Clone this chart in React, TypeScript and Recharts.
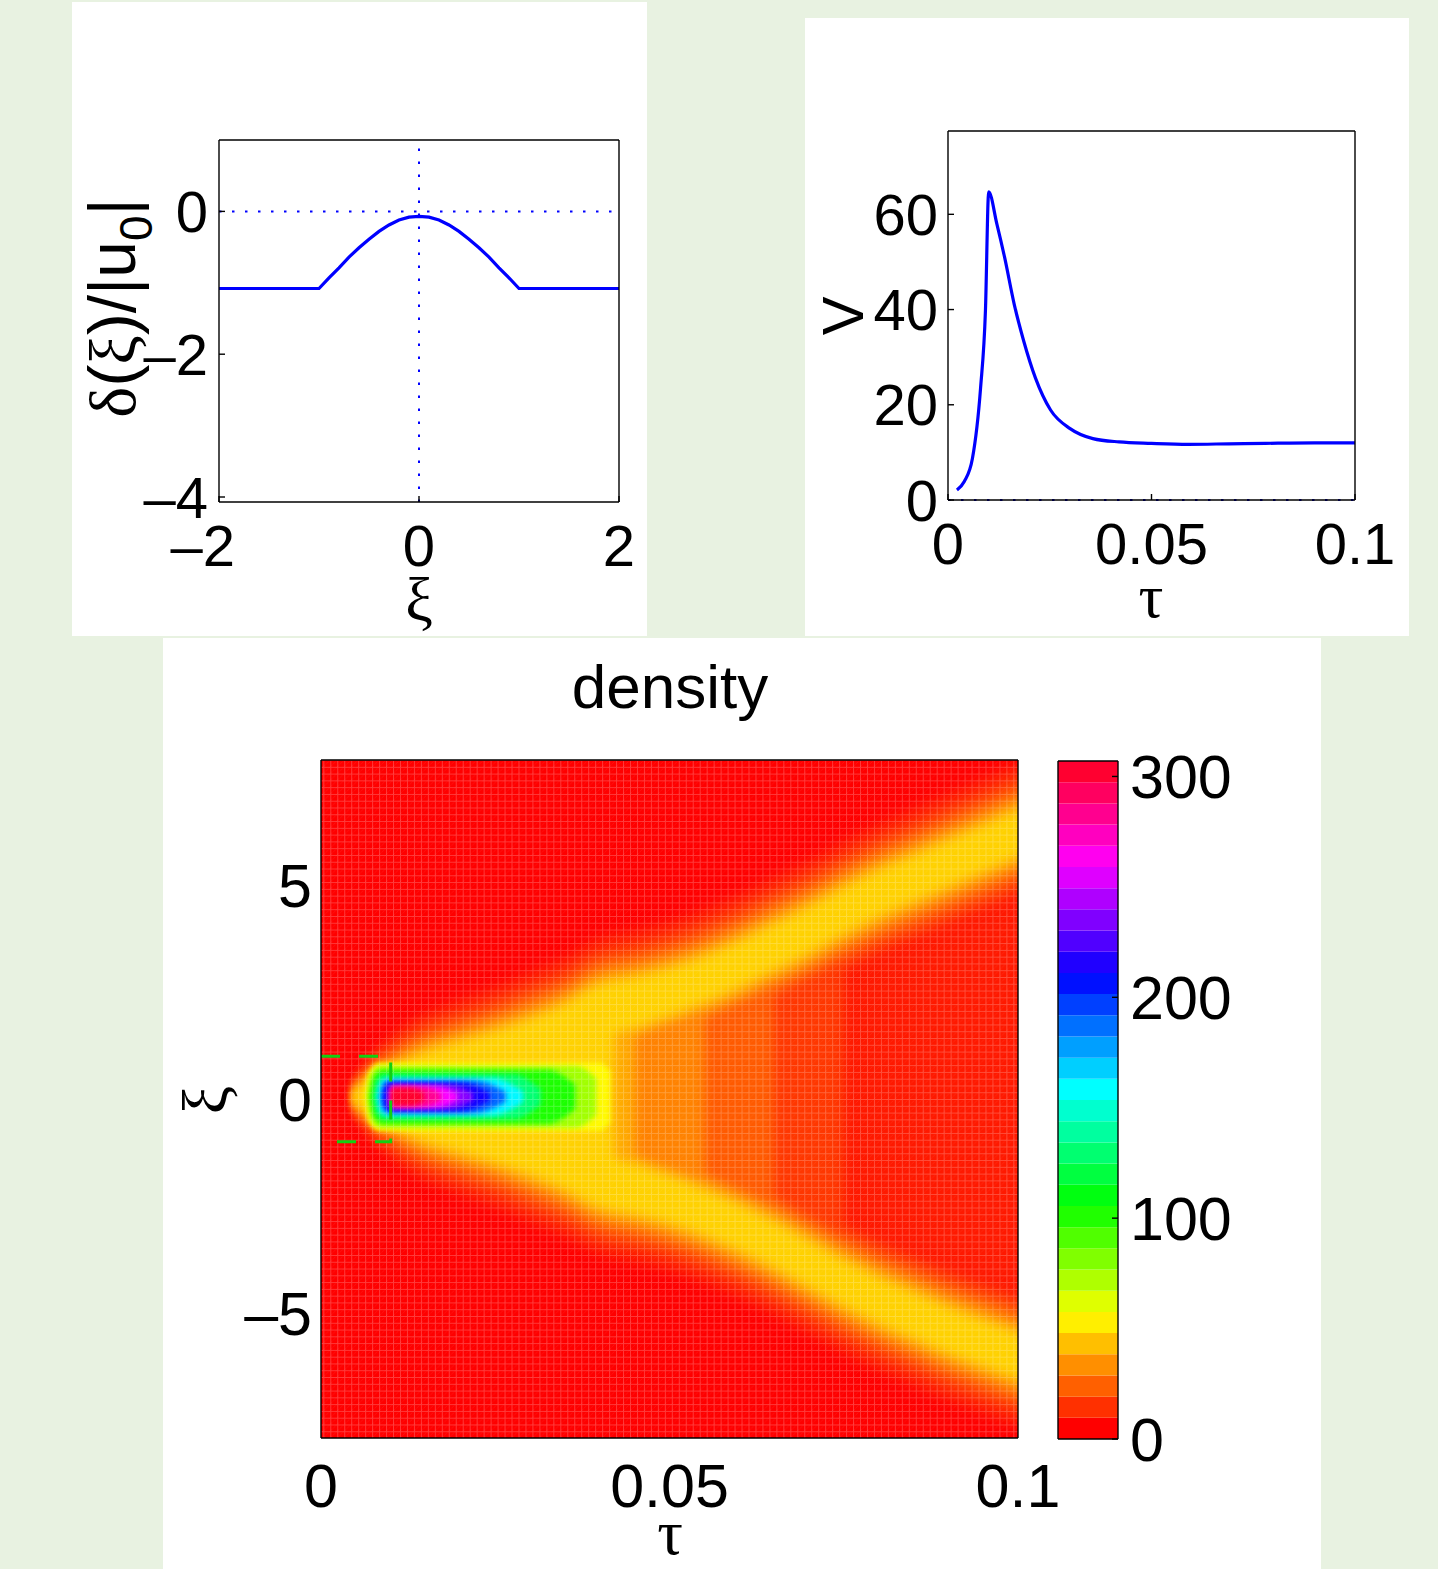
import React from 'react';
import {
  LineChart,
  Line,
  XAxis,
  YAxis,
  ReferenceLine,
  ComposedChart,
  Area,
  BarChart,
  Bar,
} from 'recharts';

const PAGE_BG = '#e8f2e1';
const SANS = '"Liberation Sans", Arial, Helvetica, sans-serif';
const SERIF = '"Liberation Serif", "DejaVu Serif", serif';
const BLUE = '#0000ff';
const AXIS = { stroke: '#000', strokeWidth: 1.4 };
const DOTTED = '2.5 10.5';

// ---- top left: delta(xi)/|u0| profile
const XI_PROFILE = [-2, -1.5, -1, -0.9, -0.8, -0.7, -0.6, -0.5, -0.4, -0.3, -0.2, -0.1, 0, 0.1, 0.2, 0.3, 0.4, 0.5, 0.6, 0.7, 0.8, 0.9, 1, 1.5, 2];
const DELTA_PROFILE = [-1.08, -1.08, -1.08, -0.93, -0.79, -0.64, -0.51, -0.39, -0.28, -0.19, -0.12, -0.08, -0.07, -0.08, -0.12, -0.19, -0.28, -0.39, -0.51, -0.64, -0.79, -0.93, -1.08, -1.08, -1.08];
const XI_TICKS = [-2, 0, 2];
const DELTA_TICKS = [-4, -2, 0];

// ---- top right: V(tau)
const TAU_V = [0.0022, 0.004, 0.006, 0.008, 0.0092, 0.0100, 0.012, 0.0139, 0.0163, 0.0186, 0.0215, 0.0252, 0.03, 0.0356, 0.042, 0.05, 0.059, 0.069, 0.078, 0.09, 0.1];
const V_VALUES = [2.1, 3.9, 8.7, 23.5, 39.8, 64.7, 58, 51, 41, 33.4, 25.6, 18.9, 15, 12.9, 12.2, 11.9, 11.7, 11.8, 11.9, 12.0, 12.0];
const TAU_TICKS = [0, 0.05, 0.1];
const V_TICKS = [0, 20, 40, 60];

// ---- bottom: density map (levels)
const CMAX = 307;
const CBAR_BANDS = 32;
const CBAR_TICKS = [0, 100, 200, 300];
const XI_HEAT_TICKS = [-5, 0, 5];

const TAU_GRID = [0.005, 0.0075, 0.01, 0.0125, 0.015, 0.02, 0.025, 0.03, 0.035, 0.0395, 0.042, 0.045, 0.048, 0.05, 0.055, 0.06, 0.065, 0.07, 0.075, 0.08, 0.085, 0.09, 0.095, 0.1, 0.106];
const UPPER_ARM_XI = [0.05, 0.3, 0.45, 0.6, 0.75, 0.95, 1.15, 1.4, 1.7, 2.05, 2.15, 2.25, 2.4, 2.5, 2.8, 3.15, 3.55, 3.95, 4.4, 4.8, 5.15, 5.5, 5.85, 6.2, 6.55];
const LOWER_ARM_XI = [0.05, -0.2, -0.35, -0.5, -0.65, -0.85, -1.05, -1.3, -1.6, -1.9, -2.0, -2.1, -2.25, -2.35, -2.65, -3.0, -3.4, -3.85, -4.3, -4.7, -5.05, -5.4, -5.7, -6.0, -6.3];
const ARM_CORE_HW = [0.12, 0.2, 0.25, 0.3, 0.33, 0.38, 0.42, 0.46, 0.5, 0.58, 0.6, 0.58, 0.55, 0.54, 0.52, 0.52, 0.52, 0.52, 0.52, 0.52, 0.52, 0.52, 0.52, 0.52, 0.52];
const ARM_SPREAD = [0.35, 0.55, 0.7, 0.8, 0.85, 0.9, 0.95, 1, 1, 1, 1, 1, 1, 1, 1, 1, 1, 1, 1, 1, 1, 1, 1, 1, 1];

// density level, extra half width of the arms, where the filled inside of the V stops
const HEAT_LEVELS = [
  { d: 5, pad: 1.15, interiorEnd: 0.106 },
  { d: 11, pad: 0.85, interiorEnd: 0.075 },
  { d: 18, pad: 0.6, interiorEnd: 0.065 },
  { d: 26, pad: 0.38, interiorEnd: 0.055 },
  { d: 34, pad: 0.18, interiorEnd: 0.045 },
  { d: 42, pad: 0, interiorEnd: 0.042 },
];

// the dense packet near tau = 0.01..0.04
const BLOB_XI = 0.05;
const BLOB_LEVELS = [
  { d: 50, t0: 0.0062, nose: 0.0022, t1: 0.0415, tail: 0.0015, hw: 0.8, endW: 0.75 },
  { d: 70, t0: 0.0066, nose: 0.002, t1: 0.0395, tail: 0.003, hw: 0.72, endW: 0.6 },
  { d: 97, t0: 0.007, nose: 0.0018, t1: 0.0365, tail: 0.004, hw: 0.63, endW: 0.45 },
  { d: 125, t0: 0.0075, nose: 0.0016, t1: 0.0315, tail: 0.004, hw: 0.52, endW: 0.35 },
  { d: 155, t0: 0.008, nose: 0.0014, t1: 0.029, tail: 0.0045, hw: 0.44, endW: 0.3 },
  { d: 185, t0: 0.0085, nose: 0.0012, t1: 0.0265, tail: 0.0045, hw: 0.38, endW: 0.3 },
  { d: 208, t0: 0.0089, nose: 0.001, t1: 0.0242, tail: 0.004, hw: 0.33, endW: 0.3 },
  { d: 232, t0: 0.0096, nose: 0.0006, t1: 0.0218, tail: 0.0035, hw: 0.28, endW: 0.3 },
  { d: 255, t0: 0.0099, nose: 0.0004, t1: 0.0196, tail: 0.003, hw: 0.25, endW: 0.3 },
  { d: 278, t0: 0.01, nose: 0.0003, t1: 0.0172, tail: 0.0025, hw: 0.23, endW: 0.35 },
  { d: 298, t0: 0.01, nose: 0.0003, t1: 0.0148, tail: 0.002, hw: 0.21, endW: 0.4 },
];
const NOSE_FRAC = [0, 0.2, 0.45, 1];
const NOSE_WIDTH = [0, 0.6, 0.85, 1];

const DASH_BOX = [
  { t: 0, xi: 1 },
  { t: 0.01, xi: 1 },
  { t: 0.01, xi: -1 },
  { t: 0, xi: -1 },
];
const PLOT_COVER = [
  { t: -0.01, r: [-9, 9] },
  { t: 0.11, r: [-9, 9] },
];

// hsv colormap
const hsv = (hue: number) => {
  const f = (n: number) => {
    const k = (n + hue / 60) % 6;
    return Math.round(255 * (1 - Math.max(0, Math.min(k, 4 - k, 1))));
  };
  return `rgb(${f(5)},${f(3)},${f(1)})`;
};
const densityColor = (d: number) => hsv(((Math.min(Math.max(d, 0), CMAX) / CMAX) * 360) % 360);

const profileRows = XI_PROFILE.map((x, i) => ({ x, y: DELTA_PROFILE[i] }));
const vRows = TAU_V.map((t, i) => ({ t, v: V_VALUES[i] }));

const armRows = (centers: number[], pad: number) =>
  TAU_GRID.map((t, i) => {
    const w = ARM_CORE_HW[i] + pad * ARM_SPREAD[i];
    return { t, r: [centers[i] - w, centers[i] + w] };
  });
const interiorRows = (tEnd: number) =>
  TAU_GRID.flatMap((t, i) => (t <= tEnd + 1e-9 ? [{ t, r: [LOWER_ARM_XI[i], UPPER_ARM_XI[i]] }] : []));
const blobRows = (lv: (typeof BLOB_LEVELS)[number]) => {
  const rows = NOSE_FRAC.map((f, k) => ({
    t: lv.t0 + f * lv.nose,
    r: [BLOB_XI - NOSE_WIDTH[k] * lv.hw, BLOB_XI + NOSE_WIDTH[k] * lv.hw],
  }));
  rows.push({ t: lv.t1 - lv.tail, r: [BLOB_XI - lv.hw, BLOB_XI + lv.hw] });
  rows.push({ t: lv.t1, r: [BLOB_XI - lv.endW * lv.hw, BLOB_XI + lv.endW * lv.hw] });
  return rows;
};

const cbarRow: Record<string, number | string> = { name: 'cb' };
for (let i = 0; i < CBAR_BANDS; i++) cbarRow[`b${i}`] = CMAX / CBAR_BANDS;

const fmt = (v: number) => (v < 0 ? `\u2013${Math.abs(v)}` : String(v));

// MATLAB hangs the minus sign to the left of a centred number
const XTick = (p: any) => {
  const v = p.payload.value as number;
  const size = p.size ?? 58;
  return (
    <text
      x={p.x}
      y={p.y}
      dx={v < 0 ? -0.278 * size : 0}
      dy="0.71em"
      textAnchor="middle"
      fontSize={size}
      fontFamily={SANS}
      fill="#000"
    >
      {fmt(v)}
    </text>
  );
};

const tickStyle = (size: number) => ({ fontSize: size, fill: '#000', fontFamily: SANS });

const ProfilePanel = () => (
  <LineChart width={575} height={634} data={profileRows} margin={{ top: 137, right: 27, bottom: 0, left: 0 }}>
    <XAxis xAxisId="b" type="number" dataKey="x" domain={[-2, 2]} ticks={XI_TICKS} interval={0} height={134}
      tickSize={-6} tickMargin={29} tickLine={AXIS} axisLine={AXIS} tick={(p: any) => <XTick {...p} size={58} />} />
    <XAxis xAxisId="t" orientation="top" type="number" dataKey="x" domain={[-2, 2]} ticks={XI_TICKS} height={1}
      tickSize={-6} tick={false} tickLine={AXIS} axisLine={AXIS} />
    <YAxis yAxisId="l" type="number" domain={[-4.07, 1]} allowDataOverflow ticks={DELTA_TICKS} interval={0} width={147}
      tickSize={-6} tickMargin={17} tickLine={AXIS} axisLine={AXIS} tickFormatter={fmt} tick={tickStyle(58)} />
    <YAxis yAxisId="r" orientation="right" type="number" domain={[-4.07, 1]} allowDataOverflow ticks={DELTA_TICKS} width={1}
      tickSize={-6} tick={false} tickLine={AXIS} axisLine={AXIS} />
    <ReferenceLine xAxisId="b" yAxisId="l" y={0} stroke={BLUE} strokeWidth={2} strokeDasharray={DOTTED} />
    <ReferenceLine xAxisId="b" yAxisId="l" x={0} stroke={BLUE} strokeWidth={2} strokeDasharray={DOTTED} />
    <Line xAxisId="b" yAxisId="l" type="linear" dataKey="y" stroke={BLUE} strokeWidth={3.2} dot={false}
      activeDot={false} isAnimationActive={false} />
    <text x={347} y={618} textAnchor="middle" fontFamily={SERIF} fontSize={62} fill="#000">ξ</text>
    <text x={63} y={306} transform="rotate(-90 63 306)" textAnchor="middle" fontFamily={SANS} fontSize={66} fill="#000">
      <tspan fontFamily={SERIF}>δ</tspan>(<tspan fontFamily={SERIF}>ξ</tspan>)/|u
      <tspan fontSize={46} dy={17}>0</tspan>
      <tspan dy={-17}>|</tspan>
    </text>
  </LineChart>
);

const VelocityPanel = () => (
  <LineChart width={604} height={618} data={vRows} margin={{ top: 112, right: 53, bottom: 0, left: 0 }}>
    <XAxis xAxisId="b" type="number" dataKey="t" domain={[0, 0.1]} ticks={TAU_TICKS} interval={0} height={136}
      tickSize={-6} tickMargin={29} tickLine={AXIS} axisLine={AXIS} tick={(p: any) => <XTick {...p} size={58} />} />
    <XAxis xAxisId="t" orientation="top" type="number" dataKey="t" domain={[0, 0.1]} ticks={TAU_TICKS} height={1}
      tickSize={-6} tick={false} tickLine={AXIS} axisLine={AXIS} />
    <YAxis yAxisId="l" type="number" domain={[0, 77.5]} allowDataOverflow ticks={V_TICKS} interval={0} width={143}
      tickSize={-6} tickMargin={16} tickLine={AXIS} axisLine={AXIS} tick={tickStyle(58)} />
    <YAxis yAxisId="r" orientation="right" type="number" domain={[0, 77.5]} allowDataOverflow ticks={V_TICKS} width={1}
      tickSize={-6} tick={false} tickLine={AXIS} axisLine={AXIS} />
    <ReferenceLine xAxisId="b" yAxisId="l" y={0} stroke={BLUE} strokeWidth={2} strokeDasharray={DOTTED} />
    <Line xAxisId="b" yAxisId="l" type="monotone" dataKey="v" stroke={BLUE} strokeWidth={3.2} dot={false}
      activeDot={false} isAnimationActive={false} />
    <text x={346} y={599} textAnchor="middle" fontFamily={SERIF} fontSize={62} fill="#000">τ</text>
    <text x={58} y={298} transform="rotate(-90 58 298)" textAnchor="middle" fontFamily={SANS} fontSize={58} fill="#000">V</text>
  </LineChart>
);

const areaBase = {
  xAxisId: 'b',
  yAxisId: 'l',
  dataKey: 'r',
  stroke: 'none',
  fillOpacity: 1,
  dot: false,
  activeDot: false,
  isAnimationActive: false,
} as const;

const DensityPanel = () => {
  const layers: React.ReactNode[] = [];
  layers.push(<Area key="bg" {...areaBase} type="linear" data={PLOT_COVER} fill={densityColor(0)} />);
  HEAT_LEVELS.forEach((lv, k) => {
    const fill = densityColor(lv.d);
    layers.push(<Area key={`in${k}`} {...areaBase} className="soft-wide" type="monotone" data={interiorRows(lv.interiorEnd)} fill={fill} />);
    layers.push(<Area key={`up${k}`} {...areaBase} className="soft-wide" type="monotone" data={armRows(UPPER_ARM_XI, lv.pad)} fill={fill} />);
    layers.push(<Area key={`lo${k}`} {...areaBase} className="soft-wide" type="monotone" data={armRows(LOWER_ARM_XI, lv.pad)} fill={fill} />);
  });
  BLOB_LEVELS.forEach((lv, k) => {
    layers.push(<Area key={`blob${k}`} {...areaBase} className="soft-tight" type="monotone" data={blobRows(lv)} fill={densityColor(lv.d)} />);
  });
  layers.push(<Area key="mesh" {...areaBase} type="linear" data={PLOT_COVER} fill="url(#mesh)" />);

  return (
    <ComposedChart width={1158} height={931} margin={{ top: 121, right: 302, bottom: 0, left: 0 }}>
      {layers}
      <Line xAxisId="b" yAxisId="l" type="linear" data={DASH_BOX} dataKey="xi" stroke="#12d012" strokeWidth={3}
        strokeDasharray="19 19" dot={false} activeDot={false} isAnimationActive={false} />
      <XAxis xAxisId="b" type="number" dataKey="t" domain={[0, 0.1]} allowDataOverflow ticks={TAU_TICKS} interval={0}
        height={131} tickSize={0} tickMargin={26} tickLine={false} axisLine={AXIS} tick={(p: any) => <XTick {...p} size={61} />} />
      <XAxis xAxisId="t" orientation="top" type="number" dataKey="t" domain={[0, 0.1]} allowDataOverflow height={1}
        tick={false} tickLine={false} axisLine={AXIS} />
      <YAxis yAxisId="l" type="number" domain={[-7.92, 7.92]} allowDataOverflow ticks={XI_HEAT_TICKS} interval={0} width={158}
        tickSize={0} tickMargin={9} tickLine={false} axisLine={AXIS} tickFormatter={fmt} tick={tickStyle(61)} />
      <YAxis yAxisId="r" orientation="right" type="number" domain={[-7.92, 7.92]} allowDataOverflow width={1}
        tick={false} tickLine={false} axisLine={AXIS} />
      <text x={507} y={70} textAnchor="middle" fontFamily={SANS} fontSize={62} fill="#000">density</text>
      <text x={507} y={916} textAnchor="middle" fontFamily={SERIF} fontSize={64} fill="#000">τ</text>
      <text x={64} y={462} transform="rotate(-90 64 462)" textAnchor="middle" fontFamily={SERIF} fontSize={64} fill="#000">ξ</text>
    </ComposedChart>
  );
};

const ColorBar = () => (
  <BarChart width={211} height={740} data={[cbarRow]} barCategoryGap={0} margin={{ top: 19, right: 0, bottom: 41, left: 0 }}>
    {Array.from({ length: CBAR_BANDS }, (_, i) => (
      <Bar key={i} dataKey={`b${i}`} stackId="cb" fill={hsv((i / CBAR_BANDS) * 360)} isAnimationActive={false} />
    ))}
    <XAxis dataKey="name" height={1} tick={false} tickLine={false} axisLine={AXIS} />
    <XAxis xAxisId="t" dataKey="name" orientation="top" height={1} tick={false} tickLine={false} axisLine={AXIS} />
    <YAxis type="number" orientation="right" domain={[0, CMAX]} allowDataOverflow ticks={CBAR_TICKS} interval={0} width={150}
      tickSize={-6} tickMargin={18} tickLine={AXIS} axisLine={AXIS} tick={tickStyle(61)} />
    <YAxis yAxisId="l2" type="number" domain={[0, CMAX]} allowDataOverflow ticks={CBAR_TICKS} width={1}
      tickSize={-6} tick={false} tickLine={AXIS} axisLine={AXIS} />
  </BarChart>
);

const panel = (left: number, top: number, width: number, height: number): React.CSSProperties => ({
  position: 'absolute',
  left,
  top,
  width,
  height,
  background: '#fff',
});

export default function App() {
  return (
    <div style={{ position: 'absolute', left: 0, top: 0, width: 1438, height: 1569, background: PAGE_BG, overflow: 'hidden' }}>
      <style>{'.soft-wide .recharts-area-area{filter:url(#softWide)} .soft-tight .recharts-area-area{filter:url(#softTight)}'}</style>
      <svg width={0} height={0} style={{ position: 'absolute' }} aria-hidden="true">
        <defs>
          <filter id="softWide" x="-25%" y="-25%" width="150%" height="150%" colorInterpolationFilters="sRGB">
            <feGaussianBlur stdDeviation={5.5} />
          </filter>
          <filter id="softTight" x="-60%" y="-60%" width="220%" height="220%" colorInterpolationFilters="sRGB">
            <feGaussianBlur stdDeviation={2.8} />
          </filter>
          <pattern id="mesh" patternUnits="userSpaceOnUse" width={6.97} height={6.78}>
            <path d="M0 0.5H6.97M0.5 0V6.78" stroke="#fff" strokeOpacity={0.22} strokeWidth={1} fill="none" />
            <path d="M0 6.78L6.97 0" stroke="#fff" strokeOpacity={0.14} strokeWidth={0.7} strokeDasharray="1 1" fill="none" />
          </pattern>
        </defs>
      </svg>
      <div style={panel(72, 2, 575, 634)}>
        <ProfilePanel />
      </div>
      <div style={panel(805, 18, 604, 618)}>
        <VelocityPanel />
      </div>
      <div style={panel(163, 638, 1158, 931)}>
        <DensityPanel />
      </div>
      <div style={{ position: 'absolute', left: 1057, top: 741 }}>
        <ColorBar />
      </div>
    </div>
  );
}
